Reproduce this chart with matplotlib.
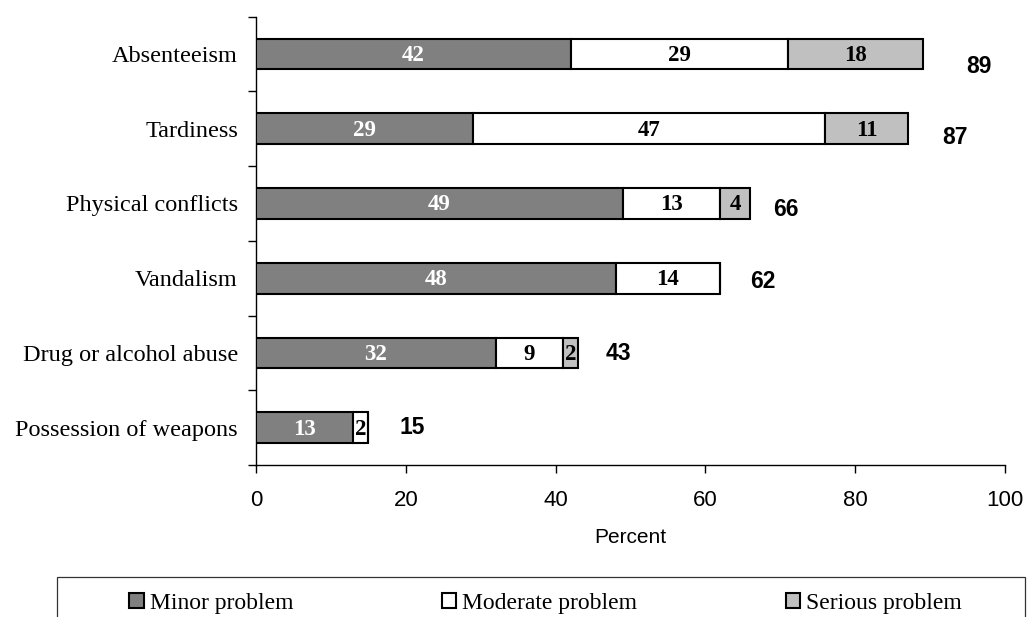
import matplotlib
matplotlib.use("Agg")
import matplotlib.pyplot as plt
from matplotlib.patches import Patch, Rectangle
import numpy as np

categories = ["Absenteeism", "Tardiness", "Physical conflicts", "Vandalism",
              "Drug or alcohol abuse", "Possession of weapons"]
minor = [42, 29, 49, 48, 32, 13]
moderate = [29, 47, 13, 14, 9, 2]
serious = [18, 11, 4, 0, 2, 0]
totals = [89, 87, 66, 62, 43, 15]
series_names = ["Minor problem", "Moderate problem", "Serious problem"]
x_ticks = [0, 20, 40, 60, 80, 100]

colors = ["#808080", "#FFFFFF", "#C0C0C0"]
text_colors = ["white", "black", "black"]
SERIF = "Liberation Serif"
SANS = "Liberation Sans"

fig = plt.figure(figsize=(10.28, 6.17), dpi=100)
W, H = 1028, 617
ax = fig.add_axes([256 / W, 1 - 465 / H, (1005 - 256) / W, (465 - 16.7) / H])

y = np.arange(len(categories))
bar_h = 0.41
left = np.zeros(len(categories))
for vals, col, tcol in zip([minor, moderate, serious], colors, text_colors):
    vals = np.array(vals, dtype=float)
    bars = ax.barh(y, vals, left=left, height=bar_h, color=col,
                   edgecolor="black", linewidth=1.5, zorder=3)
    for b, v in zip(bars, vals):
        if v > 0:
            ax.text(b.get_x() + b.get_width() / 2, b.get_y() + b.get_height() / 2 + 0.02,
                    f"{int(v)}", ha="center", va="center", color=tcol,
                    fontfamily=SERIF, fontweight="bold", fontsize=16.5, zorder=4)
    left += vals

# total labels (offsets in pixels, as in the original layout)
dx_px = [56, 47, 36, 42, 40, 44]
dy_px = [12, 9, 6, 3, 1, 0]
for i, t in enumerate(totals):
    ax.annotate(f"{t}", xy=(t, y[i]), xytext=(dx_px[i] * 0.72, -dy_px[i] * 0.72),
                textcoords="offset points", ha="center", va="center",
                fontfamily=SANS, fontweight="bold", fontsize=16.5, annotation_clip=False)

ax.set_xlim(0, 100)
ax.set_ylim(len(categories) - 0.5, -0.5)
ax.set_xticks(x_ticks)
ax.set_xticklabels([str(v) for v in x_ticks], fontfamily=SANS, fontsize=16)
ax.set_yticks(y)
ax.set_yticklabels(categories, fontfamily=SERIF, fontsize=17.5)
ax.set_yticks(np.arange(-0.5, len(categories)), minor=True)
ax.tick_params(axis="y", which="major", length=0, pad=13)
ax.tick_params(axis="y", which="minor", length=5.8, width=1, direction="out")
ax.tick_params(axis="x", which="major", length=5.8, width=1, direction="out", pad=12.5)
ax.set_xlabel("Percent", fontfamily=SANS, fontsize=15, labelpad=12)

for s in ["top", "right"]:
    ax.spines[s].set_visible(False)
for s in ["left", "bottom"]:
    ax.spines[s].set_linewidth(1)
    ax.spines[s].set_color("black")

# legend frame (extends beyond figure edge, as in original)
fig.patches.append(Rectangle((57 / W, -0.2), (1025 - 57) / W, 0.2 + (1 - 577 / H),
                             transform=fig.transFigure, fill=False,
                             edgecolor="#333333", linewidth=0.9, clip_on=False))
handles = [Patch(facecolor=c, edgecolor="black", linewidth=1.5) for c in colors]
fig.legend(handles, series_names, loc="center left",
           bbox_to_anchor=(129 / W, 1 - 603 / H, (962 - 129) / W, 0),
           mode="expand", ncol=3, frameon=False, borderpad=0, borderaxespad=0,
           handlelength=0.62, handleheight=0.62, handletextpad=0.25,
           prop={"family": SERIF, "size": 17})

fig.savefig("out.png", dpi=100)
